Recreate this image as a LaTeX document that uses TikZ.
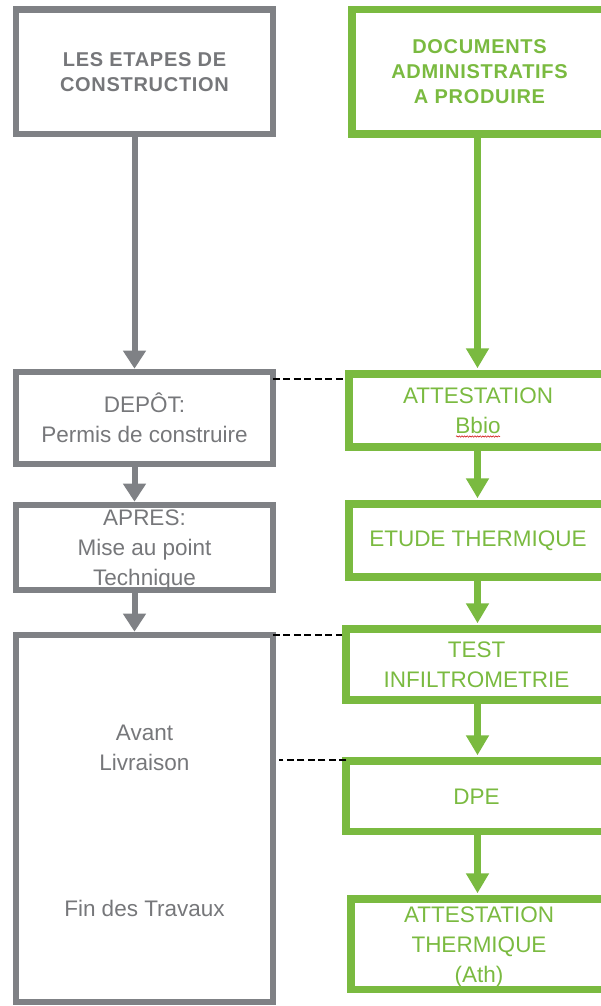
\documentclass[tikz,border=0pt]{standalone}
\usepackage{fontspec}
\setmainfont{Liberation Sans}
\usetikzlibrary{arrows.meta,decorations.pathmorphing}
\definecolor{gbox}{RGB}{127,129,133}
\definecolor{gtext}{RGB}{118,119,122}
\definecolor{grn}{RGB}{122,186,64}
\begin{document}
\begin{tikzpicture}[x=1pt,y=-1pt,
  every node/.style={inner sep=0pt},
  regfont/.style={font=\fontsize{22.5}{30}\selectfont},
  gbx/.style={draw=gbox, line width=6.6pt, minimum width=257pt, align=center, text=gtext, regfont},
  bbx/.style={draw=grn, line width=7.5pt, align=center, text=grn, regfont},
  hdr/.style={font=\fontsize{20}{25}\selectfont\bfseries\addfontfeature{LetterSpace=3.5}},
  gtxt/.style={align=center, text=gtext, regfont},
  garr/.style={draw=gbox, line width=6pt, -{Triangle[width=22pt,length=18pt]}},
  barr/.style={draw=grn, line width=7.5pt, -{Triangle[width=22pt,length=20pt]}, shorten >=2pt},
  dsh/.style={draw=black, line width=1.8pt, dash pattern=on 7pt off 3.5pt},
  squig/.style={draw=red!80!black, line width=0.5pt, decorate, decoration={snake, segment length=2.6pt, amplitude=0.7pt}}
]
\useasboundingbox (0,0) rectangle (601,1006);
\clip (0,0) rectangle (601,1006);

% left column
\node[gbx, hdr, minimum height=124.3pt] (g1) at (144.5,71.85) {LES ETAPES DE\\CONSTRUCTION};
\node[gbx, minimum height=92pt] (g2) at (144.5,418) {DEPÔT:\\Permis de construire};
\node[gbx, minimum height=85pt, text depth=0pt] (g3) at (144.5,547.5) {APRES:\\Mise au point\\Technique};
\node[gbx, minimum height=367pt] (g4) at (144.5,818.5) {};
\node[gtxt] (t1) at (144.5,748) {Avant\\Livraison};
\node[gtxt, anchor=base] (t2) at (144.5,916) {Fin des Travaux};

% right column
\node[bbx, hdr, minimum width=255pt, minimum height=124.3pt] (b1) at (479.5,71.85) {DOCUMENTS\\ADMINISTRATIFS\\A PRODUIRE};
\node[bbx, minimum width=258pt, minimum height=73pt] (b2) at (478,410.5) {ATTESTATION\\Bbio};
\node[bbx, minimum width=258pt, minimum height=73pt] (b3) at (478,540.5) {ETUDE THERMIQUE};
\node[bbx, minimum width=261pt, minimum height=71pt] (b4) at (476.5,664.5) {TEST\\INFILTROMETRIE};
\node[bbx, minimum width=261pt, minimum height=70.7pt] (b5) at (476.5,796.35) {DPE};
\node[bbx, minimum width=256pt, minimum height=90.7pt, text depth=0pt] (b6) at (479,944.35) {ATTESTATION\\THERMIQUE\\(Ath)};

% arrows
\coordinate (gx) at (134.5,0);
\coordinate (bx) at (477.5,0);
\draw[garr] (g1.south -| gx) -- (g2.north -| gx);
\draw[garr] (g2.south -| gx) -- (g3.north -| gx);
\draw[garr] (g3.south -| gx) -- (g4.north -| gx);
\draw[barr] (b1.south -| bx) -- (b2.north -| bx);
\draw[barr] (b2.south -| bx) -- (b3.north -| bx);
\draw[barr] (b3.south -| bx) -- (b4.north -| bx);
\draw[barr] (b4.south -| bx) -- (b5.north -| bx);
\draw[barr] (b5.south -| bx) -- (b6.north -| bx);

% dashed links
\coordinate (d1) at ([xshift=-3.5pt,yshift=-10.3pt]g2.north east);
\draw[dsh] (d1) -- (d1 -| b2.west);
\coordinate (d2) at ([xshift=-3.5pt,yshift=-3.3pt]g4.north east);
\draw[dsh] (d2) -- (d2 -| b4.west);
\coordinate (d3) at ([xshift=4pt,yshift=-3pt]b5.north west);
\draw[dsh] (d3) -- ([xshift=2.5pt]d3 -| g4.east);

% spell-check squiggle under Bbio
\draw[squig] ([xshift=-22pt,yshift=-26pt]b2.center) -- ([xshift=22pt,yshift=-26pt]b2.center);
\end{tikzpicture}
\end{document}
